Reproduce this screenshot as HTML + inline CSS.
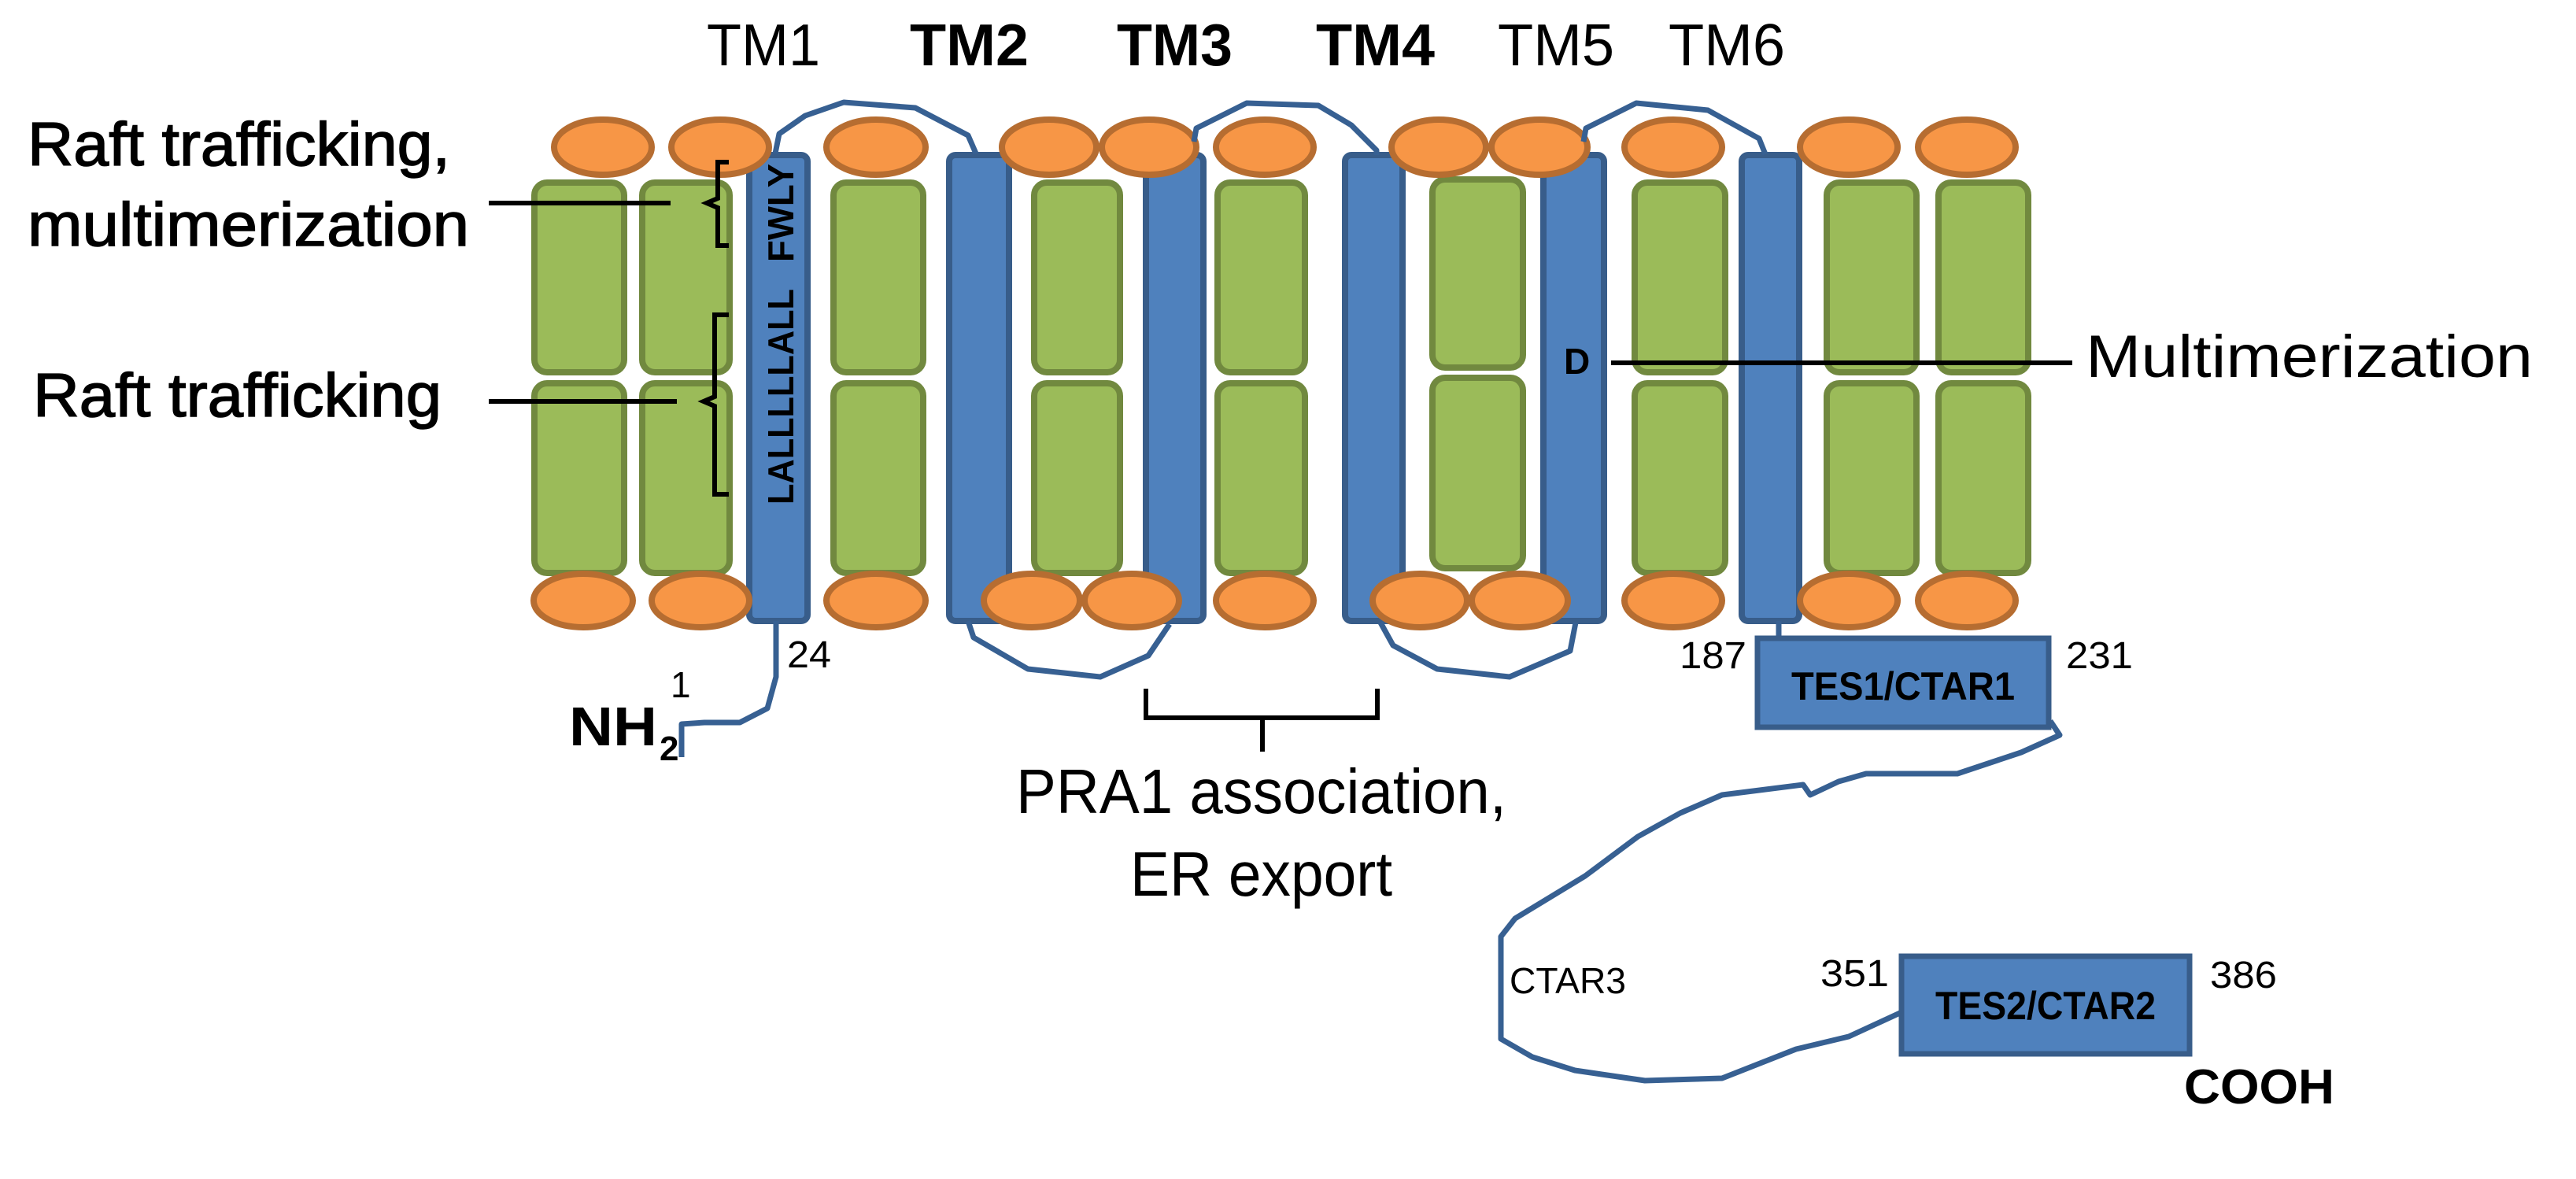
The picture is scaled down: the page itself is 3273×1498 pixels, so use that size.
<!DOCTYPE html>
<html><head><meta charset="utf-8"><style>
html,body{margin:0;padding:0;background:#fff;}
svg{display:block;}
text{font-family:"Liberation Sans",Arial,sans-serif;fill:#000;}
</style></head><body>
<svg width="3273" height="1498" viewBox="0 0 3273 1498" xmlns="http://www.w3.org/2000/svg">
<g fill="#4F81BD" stroke="#385D8A" stroke-width="8">
<rect x="952" y="197" width="74" height="592" rx="8"/>
<rect x="1206" y="197" width="76" height="592" rx="8"/>
<rect x="1456" y="197" width="73" height="592" rx="8"/>
<rect x="1709" y="197" width="73" height="592" rx="8"/>
<rect x="1961" y="197" width="77" height="592" rx="8"/>
<rect x="2213" y="197" width="73" height="592" rx="8"/>
</g>
<g fill="#9BBB59" stroke="#71893F" stroke-width="8">
<rect x="679" y="232" width="114" height="241" rx="16"/><rect x="679" y="487" width="114" height="241" rx="16"/>
<rect x="816" y="232" width="111" height="241" rx="16"/><rect x="816" y="487" width="111" height="241" rx="16"/>
<rect x="1059" y="232" width="114" height="241" rx="16"/><rect x="1059" y="487" width="114" height="241" rx="16"/>
<rect x="1314" y="232" width="109" height="241" rx="16"/><rect x="1314" y="487" width="109" height="241" rx="16"/>
<rect x="1547" y="232" width="111" height="241" rx="16"/><rect x="1547" y="487" width="111" height="241" rx="16"/>
<rect x="1820" y="228" width="115" height="239" rx="16"/><rect x="1820" y="480" width="115" height="242" rx="16"/>
<rect x="2077" y="232" width="115" height="241" rx="16"/><rect x="2077" y="487" width="115" height="241" rx="16"/>
<rect x="2321" y="232" width="114" height="241" rx="16"/><rect x="2321" y="487" width="114" height="241" rx="16"/>
<rect x="2463" y="232" width="114" height="241" rx="16"/><rect x="2463" y="487" width="114" height="241" rx="16"/>
</g>
<g fill="#F79646" stroke="#B66D31" stroke-width="8">
<ellipse cx="766" cy="187" rx="62" ry="35"/><ellipse cx="915" cy="187" rx="62" ry="35"/>
<ellipse cx="1113" cy="187" rx="63" ry="35"/><ellipse cx="1333" cy="187" rx="60" ry="35"/>
<ellipse cx="1460" cy="187" rx="60" ry="35"/><ellipse cx="1607" cy="187" rx="62" ry="35"/>
<ellipse cx="1828" cy="187" rx="60" ry="35"/><ellipse cx="1956" cy="187" rx="61" ry="35"/>
<ellipse cx="2126" cy="187" rx="62" ry="35"/><ellipse cx="2349" cy="187" rx="62" ry="35"/>
<ellipse cx="2499" cy="187" rx="62" ry="35"/>
<ellipse cx="741" cy="763" rx="63" ry="34"/><ellipse cx="890" cy="763" rx="62" ry="34"/>
<ellipse cx="1113" cy="763" rx="63" ry="34"/><ellipse cx="1311" cy="763" rx="61" ry="34"/>
<ellipse cx="1438" cy="763" rx="60" ry="34"/><ellipse cx="1607" cy="763" rx="62" ry="34"/>
<ellipse cx="1804" cy="763" rx="60" ry="34"/><ellipse cx="1931" cy="763" rx="61" ry="34"/>
<ellipse cx="2126" cy="763" rx="62" ry="34"/><ellipse cx="2349" cy="763" rx="62" ry="34"/>
<ellipse cx="2499" cy="763" rx="62" ry="34"/>
</g>
<g fill="none" stroke="#376092" stroke-width="7" stroke-linejoin="round">
<polyline points="986,789 986,860 975,900 940,918 895,918 866,920 866,962"/>
<polyline points="985,195 990,170 1023,147 1072,130 1163,137 1230,172 1240,195"/>
<polyline points="1517,180 1520,163 1584,131 1675,134 1717,159 1749,191 1749,197"/>
<polyline points="2012,180 2015,163 2079,131 2170,140 2235,176 2243,196"/>
<polyline points="1230,789 1237,810 1306,850 1398,860 1459,833 1486,793"/>
<polyline points="1754,791 1770,820 1826,850 1918,860 1995,827 2002,791"/>
<polyline points="2260,789 2260,809"/>
<polyline points="2605,916 2617,934 2568,956 2487,983 2371,983 2336,993 2300,1010 2291,997 2188,1010 2135,1033 2081,1063 2014,1113 1925,1167 1907,1190 1907,1320 1947,1343 2001,1360 2090,1373 2188,1370 2282,1333 2349,1317 2414,1287"/>
</g>
<g fill="#4F81BD" stroke="#385D8A" stroke-width="7">
<rect x="2233" y="811" width="370" height="113"/>
<rect x="2416" y="1215" width="366" height="124"/>
</g>
<g stroke="#000" stroke-width="6" fill="none">
<line x1="621" y1="258" x2="852" y2="258"/>
<polyline points="926,206 912,206 912,252 898,258 912,264 912,312 926,312"/>
<line x1="621" y1="510" x2="860" y2="510"/>
<polyline points="926,400 908,400 908,504 894,510 908,516 908,628 926,628"/>
<line x1="2047" y1="461" x2="2633" y2="461"/>
<polyline points="1456,875 1456,912 1750,912 1750,875"/>
<line x1="1604" y1="912" x2="1604" y2="955"/>
</g>
<text x="898" y="83" font-size="75" textLength="144" lengthAdjust="spacingAndGlyphs">TM1</text>
<text x="1156" y="83" font-size="75" font-weight="bold" textLength="151" lengthAdjust="spacingAndGlyphs">TM2</text>
<text x="1419" y="83" font-size="75" font-weight="bold" textLength="147" lengthAdjust="spacingAndGlyphs">TM3</text>
<text x="1672" y="83" font-size="75" font-weight="bold" textLength="151" lengthAdjust="spacingAndGlyphs">TM4</text>
<text x="1903" y="83" font-size="75" textLength="148" lengthAdjust="spacingAndGlyphs">TM5</text>
<text x="2120" y="83" font-size="75" textLength="148" lengthAdjust="spacingAndGlyphs">TM6</text>
<text x="35" y="210" font-size="78" stroke="#000" stroke-width="1.5" textLength="537" lengthAdjust="spacingAndGlyphs">Raft trafficking,</text>
<text x="35" y="312" font-size="78" stroke="#000" stroke-width="1.5" textLength="561" lengthAdjust="spacingAndGlyphs">multimerization</text>
<text x="42" y="529" font-size="78" stroke="#000" stroke-width="1.5" textLength="519" lengthAdjust="spacingAndGlyphs">Raft trafficking</text>
<text x="2650" y="479" font-size="76" textLength="568" lengthAdjust="spacingAndGlyphs">Multimerization</text>
<text x="1291" y="1033" font-size="80" textLength="623" lengthAdjust="spacingAndGlyphs">PRA1 association,</text>
<text x="1436" y="1138" font-size="80" textLength="333" lengthAdjust="spacingAndGlyphs">ER export</text>
<text x="1008" y="641" font-size="46" font-weight="bold" transform="rotate(-90 1008 641)" textLength="274" lengthAdjust="spacingAndGlyphs">LALLLLLALL</text>
<text x="1008" y="333" font-size="46" font-weight="bold" transform="rotate(-90 1008 333)" textLength="125" lengthAdjust="spacingAndGlyphs">FWLY</text>
<text x="1987" y="475" font-size="46" font-weight="bold">D</text>
<text x="723" y="947" font-size="70" font-weight="bold" textLength="112" lengthAdjust="spacingAndGlyphs">NH</text>
<text x="838" y="966" font-size="44" font-weight="bold">2</text>
<text x="852" y="886" font-size="46">1</text>
<text x="1000" y="848" font-size="48" textLength="56" lengthAdjust="spacingAndGlyphs">24</text>
<text x="2134" y="849" font-size="48" textLength="85" lengthAdjust="spacingAndGlyphs">187</text>
<text x="2625" y="849" font-size="48" textLength="85" lengthAdjust="spacingAndGlyphs">231</text>
<text x="2313" y="1253" font-size="48" textLength="87" lengthAdjust="spacingAndGlyphs">351</text>
<text x="2808" y="1255" font-size="48" textLength="85" lengthAdjust="spacingAndGlyphs">386</text>
<text x="1918" y="1262" font-size="46" textLength="148" lengthAdjust="spacingAndGlyphs">CTAR3</text>
<text x="2276" y="889" font-size="50" font-weight="bold" textLength="284" lengthAdjust="spacingAndGlyphs">TES1/CTAR1</text>
<text x="2459" y="1295" font-size="50" font-weight="bold" textLength="280" lengthAdjust="spacingAndGlyphs">TES2/CTAR2</text>
<text x="2775" y="1402" font-size="62" font-weight="bold" textLength="191" lengthAdjust="spacingAndGlyphs">COOH</text>
</svg>
</body></html>
